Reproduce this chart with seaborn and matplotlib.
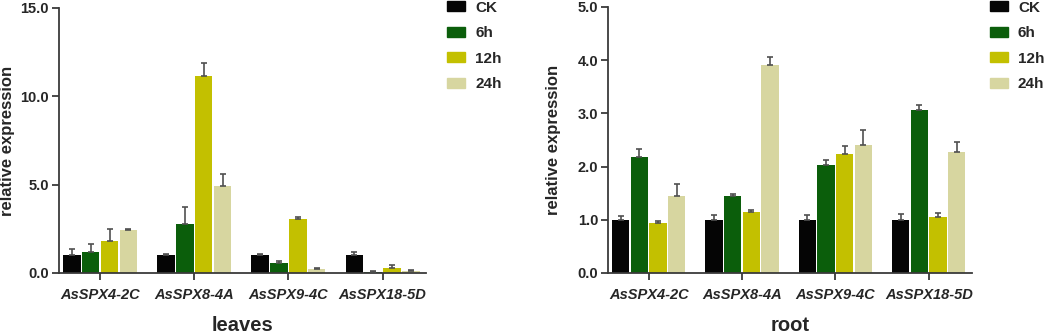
import numpy as np
import pandas as pd
import matplotlib
matplotlib.use("Agg")
import matplotlib.pyplot as plt
import seaborn as sns

genes = ["AsSPX4-2C", "AsSPX8-4A", "AsSPX9-4C", "AsSPX18-5D"]
treatments = ["CK", "6h", "12h", "24h"]
colors = ["#050505", "#0b5e0b", "#c3c000", "#d7d6a0"]

# leaves: mean values per gene (rows) x treatment (cols)
leaves_mean = [
    [1.00, 1.20, 1.81, 2.41],
    [1.00, 2.79, 11.12, 4.90],
    [1.00, 0.57, 3.05, 0.23],
    [1.00, 0.06, 0.30, 0.11],
]
leaves_top = [
    [1.36, 1.66, 2.47, 2.47],
    [1.06, 3.73, 11.89, 5.60],
    [1.06, 0.68, 3.15, 0.28],
    [1.17, 0.09, 0.43, 0.17],
]
root_mean = [
    [1.00, 2.175, 0.94, 1.44],
    [1.00, 1.45, 1.15, 3.90],
    [1.00, 2.03, 2.24, 2.41],
    [1.00, 3.06, 1.06, 2.27],
]
root_top = [
    [1.08, 2.325, 0.975, 1.68],
    [1.09, 1.49, 1.19, 4.06],
    [1.09, 2.13, 2.39, 2.68],
    [1.10, 3.16, 1.125, 2.47],
]

sns.set_style("ticks")
plt.rcParams["font.family"] = ["Liberation Sans", "DejaVu Sans"]
plt.rcParams["font.weight"] = "bold"

fig = plt.figure(figsize=(10.52, 3.36), dpi=100)
axL = fig.add_axes([0.0558, 0.1875, 0.349, 0.789])
axR = fig.add_axes([0.5777, 0.1875, 0.346, 0.792])

spine_c = "#3a3a3a"


def draw(ax, means, tops, ymax, yticks, xlabel, leg_x, ylab_x):
    rows = []
    for gi, g in enumerate(genes):
        for ti, t in enumerate(treatments):
            rows.append({"gene": g, "treat": t, "val": means[gi][ti],
                         "top": tops[gi][ti]})
    df = pd.DataFrame(rows)
    sns.barplot(data=df, x="gene", y="val", hue="treat", order=genes,
                hue_order=treatments, palette=colors, width=0.8, gap=0.07,
                saturation=1, errorbar=None, ax=ax, legend=False,
                linewidth=0)
    # error bars (upper only)
    ng = len(genes)
    nt = len(treatments)
    for ti in range(nt):
        xs = np.arange(ng) + (ti - (nt - 1) / 2) * 0.2
        m = np.array([means[gi][ti] for gi in range(ng)])
        tp = np.array([tops[gi][ti] for gi in range(ng)])
        ax.errorbar(xs, m, yerr=[np.zeros(ng), tp - m], fmt="none",
                    ecolor="#505050", elinewidth=1.2, capsize=2.5,
                    capthick=1.2, zorder=3)
    ax.set_xlim(-0.44, 3.46)
    ax.set_ylim(0, ymax)
    ax.set_yticks(yticks)
    ax.set_yticklabels([f"{v:.1f}" for v in yticks], fontsize=10.5,
                       fontweight="bold")
    ax.set_xticks(range(ng))
    ax.set_xticklabels(genes, fontsize=10.5, fontweight="bold",
                       fontstyle="italic")
    ax.set_ylabel("relative expression", fontsize=12, fontweight="bold")
    ax.yaxis.set_label_coords(ylab_x, 0.5)
    ax.set_xlabel(xlabel, fontsize=14.5, fontweight="bold", labelpad=10)
    sns.despine(ax=ax)
    for s in ["left", "bottom"]:
        ax.spines[s].set_linewidth(1.3)
        ax.spines[s].set_color(spine_c)
    ax.tick_params(axis="both", length=5, width=1.3, color=spine_c, pad=2)
    ax.tick_params(axis="x", pad=6)
    handles = [plt.Rectangle((0, 0), 1, 1, color=c) for c in colors]
    leg = ax.legend(handles, treatments, loc="upper left",
                    bbox_to_anchor=(leg_x, 1.0), bbox_transform=fig.transFigure,
                    frameon=False, fontsize=11, handlelength=1.2,
                    handleheight=0.65, handletextpad=0.65, labelspacing=0.75,
                    borderpad=0.05, borderaxespad=0)
    for t in leg.get_texts():
        t.set_fontweight("bold")


draw(axL, leaves_mean, leaves_top, 15, [0, 5, 10, 15], "leaves", 0.424,
     -0.119)
draw(axR, root_mean, root_top, 5, [0, 1, 2, 3, 4, 5], "root", 0.940,
     -0.129)

fig.savefig("out.png", dpi=100)
